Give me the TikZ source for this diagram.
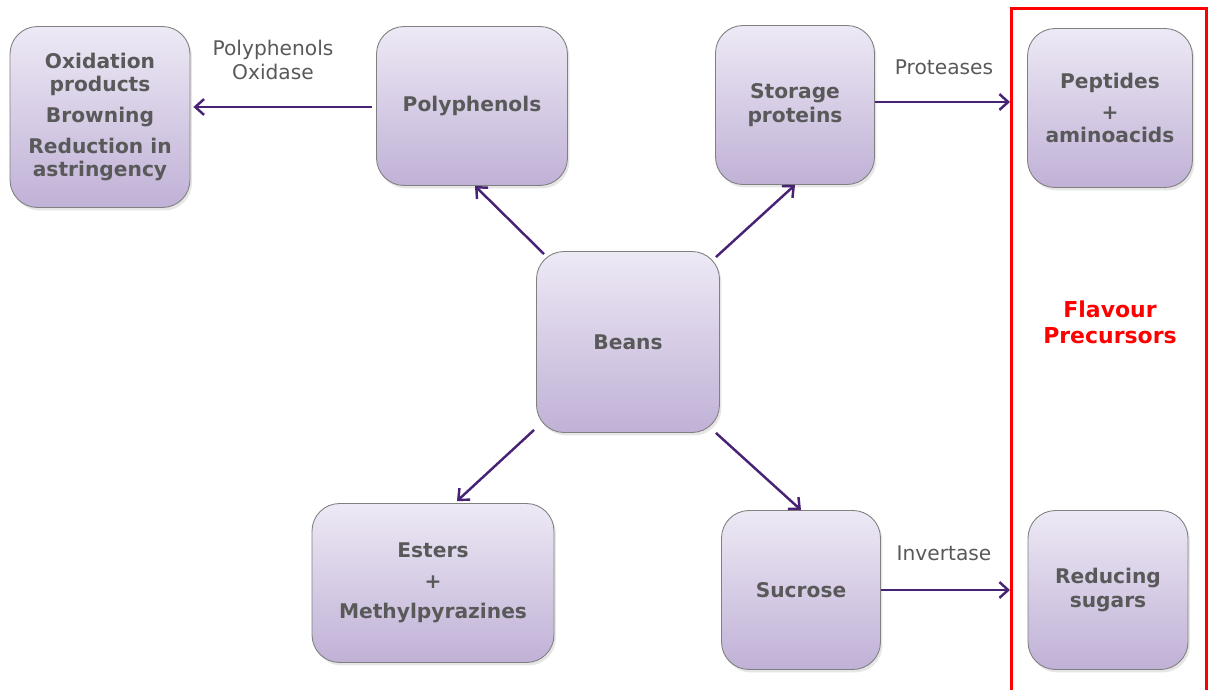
\documentclass[tikz,border=0pt]{standalone}
\usepackage{fontspec}
\setmainfont{DejaVu Sans}
\usepackage{xcolor}
\usetikzlibrary{arrows.meta,shadows}

\definecolor{boxtop}{RGB}{237,233,245}
\definecolor{boxbottom}{RGB}{192,177,214}
\definecolor{boxline}{RGB}{128,128,128}
\definecolor{arrowpurple}{RGB}{72,34,116}
\definecolor{textgray}{RGB}{89,89,89}

\begin{document}
\begin{tikzpicture}[x=0.02cm,y=-0.02cm,
    stagebox/.style={draw=boxline,line width=0.5pt,rounded corners=0.55cm,
        top color=boxtop,bottom color=boxbottom,align=center,text=textgray,
        font=\fontsize{11.5}{13.5}\selectfont\bfseries,
        drop shadow={opacity=0.2,shadow xshift=0.04cm,shadow yshift=-0.06cm}},
    enzyme/.style={text=textgray,align=center,font=\fontsize{11.5}{13.5}\selectfont},
    flow/.style={draw=arrowpurple,line width=1.4pt,-{Straight Barb[length=5pt,width=9pt,line width=1.4pt]}}]
    \useasboundingbox (0,0) rectangle (1208,690);
    % frame of the flavour precursors
    \node[draw=red,line width=1.7pt,minimum width=3.9cm,minimum height=14cm,inner sep=0pt] (frame) at (1109,358) {};
    \node[text=red,align=center,font=\fontsize{12.5}{15}\selectfont\bfseries] (flav) at (1110,322) {Flavour\\Precursors};
    % boxes
    \node[stagebox,minimum width=3.6cm,minimum height=3.62cm] (oxid) at (100,117) {Oxidation\\products\\[4pt]Browning\\[4pt]Reduction in\\astringency};
    \node[stagebox,minimum width=3.82cm,minimum height=3.18cm] (poly) at (472,106) {Polyphenols};
    \node[stagebox,minimum width=3.18cm,minimum height=3.18cm] (store) at (795,105) {Storage\\proteins};
    \node[stagebox,minimum width=3.3cm,minimum height=3.18cm] (pept) at (1110,108) {Peptides\\[4pt]+\\aminoacids};
    \node[stagebox,minimum width=3.66cm,minimum height=3.62cm] (beans) at (628,342) {Beans};
    \node[stagebox,minimum width=4.84cm,minimum height=3.18cm] (ester) at (433,583) {Esters\\[4pt]+\\[4pt]Methylpyrazines};
    \node[stagebox,minimum width=3.18cm,minimum height=3.18cm] (sucr) at (801,590) {Sucrose};
    \node[stagebox,minimum width=3.2cm,minimum height=3.18cm] (redsug) at (1108,590) {Reducing\\sugars};
    % enzymes
    \node[enzyme] (ppo) at (273,60) {Polyphenols\\Oxidase};
    \node[enzyme] (prot) at (944,67) {Proteases};
    \node[enzyme] (inv) at (944,553) {Invertase};
    % arrows
    \draw[flow] ([shift={(-4,1)}]poly.west) -- ([shift={(3,1)}]oxid.east |- poly.west);
    \draw[flow] ([shift={(0,-3)}]store.east) -- ([shift={(0,-3)}]store.east -| frame.west);
    \draw[flow] (sucr.east) -- (sucr.east -| frame.west);
    \draw[flow] ([shift={(8,3)}]beans.north west) -- ([shift={(3,0)}]poly.south);
    \draw[flow] ([shift={(-4,6)}]beans.north east) -- (store.south);
    \draw[flow] ([shift={(-2,-3)}]beans.south west) -- ([shift={(24,-2)}]ester.north);
    \draw[flow] ([shift={(-4,0)}]beans.south east) -- (sucr.north);
\end{tikzpicture}
\end{document}
